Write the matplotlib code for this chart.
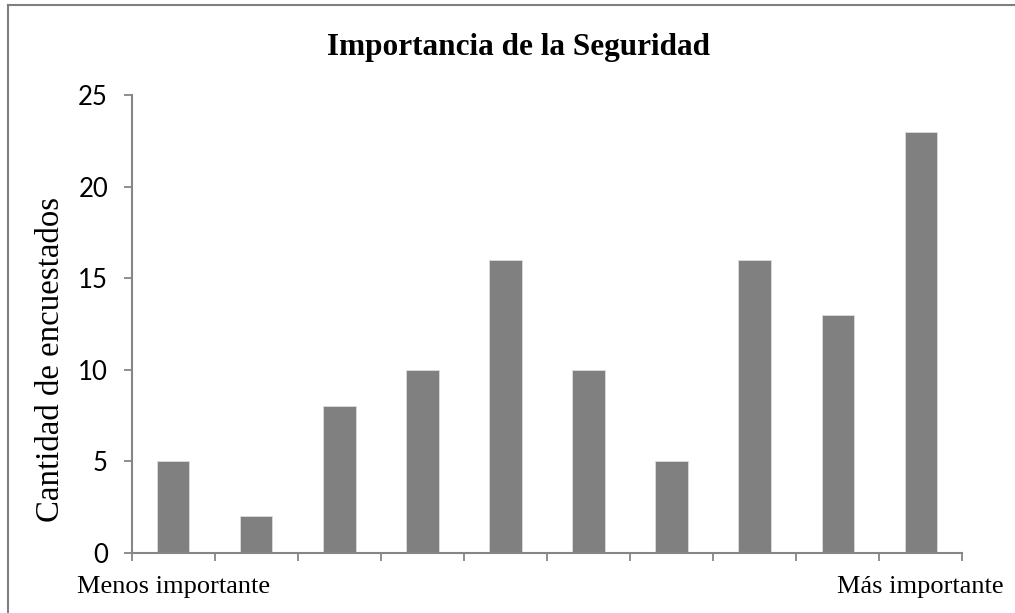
import numpy as np
import matplotlib
matplotlib.use('Agg')
import matplotlib.pyplot as plt
from matplotlib.lines import Line2D

# datos de la encuesta: escala 1 (menos importante) a 10 (más importante)
niveles = list(range(1, 11))
encuestados = [5, 2, 8, 10, 16, 10, 5, 16, 13, 23]
extremos = ['Menos importante', 'Más importante']
yticks = [0, 5, 10, 15, 20, 25]

titulo = 'Importancia de la Seguridad'
etiqueta_y = 'Cantidad de encuestados'

SERIF = 'Liberation Serif'
GRIS = '#868686'

fig = plt.figure(figsize=(10.15, 6.13), dpi=100)
ax = fig.add_axes([0.1297, 0.0979, 0.8184, 0.7471])

x = np.arange(len(niveles))
ax.bar(x, encuestados, width=0.39, color='#808080',
       edgecolor='#dcdcdc', linewidth=0.6, zorder=2)

ax.set_xlim(-0.5, len(niveles) - 0.5)
ax.set_ylim(0, 25)

# eje y
ax.set_yticks(yticks)
ax.set_yticklabels([str(v) for v in yticks], fontfamily='Lato', fontsize=18.5)
ax.tick_params(axis='y', length=6, width=1.3, color=GRIS, pad=11)

# eje x: marcas en los límites de cada categoría, sin etiquetas
ax.set_xticks(np.arange(len(niveles) + 1) - 0.5)
ax.set_xticklabels([])
ax.tick_params(axis='x', length=5.5, width=1.3, color=GRIS, direction='out')

for lado in ['top', 'right']:
    ax.spines[lado].set_visible(False)
for lado in ['left', 'bottom']:
    ax.spines[lado].set_color(GRIS)
    ax.spines[lado].set_linewidth(1.5)

# etiquetas de los extremos de la escala
for pos, txt in zip([x[0], x[-1]], extremos):
    ax.text(pos, -0.0873, txt, transform=ax.get_xaxis_transform(),
            ha='center', va='baseline', fontfamily=SERIF, fontsize=19)

fig.text(0.511, 0.910, titulo, ha='center', va='baseline',
         fontfamily=SERIF, fontsize=22.5, fontweight='bold')
fig.text(0.050, 0.413, etiqueta_y, rotation=90, ha='center', va='center',
         fontfamily=SERIF, fontsize=23.7)

# borde del área del gráfico (izquierda y arriba)
fig.add_artist(Line2D([8 / 1015, 8 / 1015], [0, 1 - 5 / 613],
                      color='#7f7f7f', lw=1.5, transform=fig.transFigure))
fig.add_artist(Line2D([8 / 1015, 1], [1 - 5 / 613, 1 - 5 / 613],
                      color='#7f7f7f', lw=1.5, transform=fig.transFigure))

fig.savefig('out.png', dpi=100)
